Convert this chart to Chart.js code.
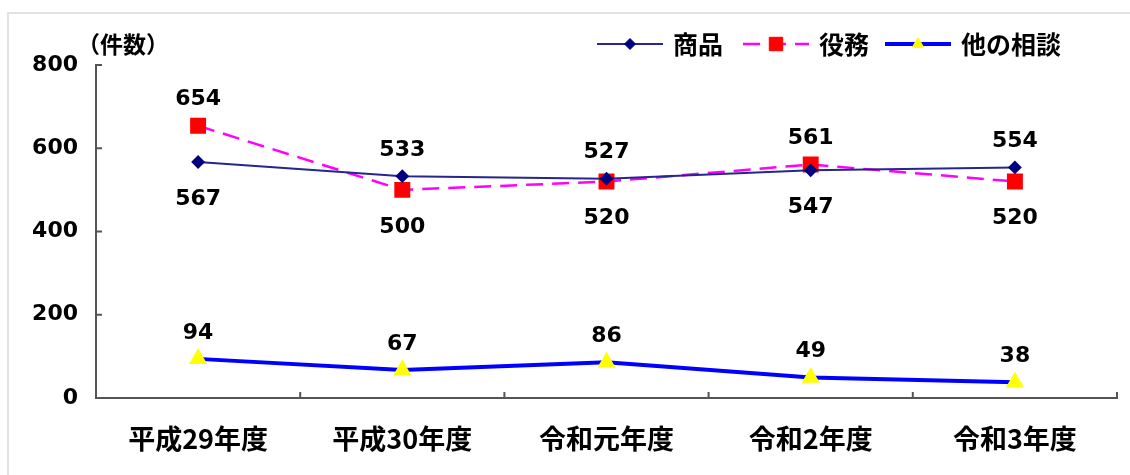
<!DOCTYPE html>
<html>
<head>
<meta charset="utf-8">
<script src="https://cdn.jsdelivr.net/npm/chart.js@4"></script>
<style>
    html, body { margin:0; padding:0; background:#fff; }
    #wrap { width:1130px; height:475px; position:relative; }
</style>
</head>
<body>
<div id="wrap"><canvas id="grafica" width="1130" height="475"></canvas></div>
<script>
var categorias = ['平成29年度', '平成30年度', '令和元年度', '令和2年度', '令和3年度'];
var shohin = [567, 533, 527, 547, 554];      // 商品
var ekimu = [654, 500, 520, 561, 520];        // 役務
var sonota = [94, 67, 86, 49, 38];            // 他の相談
var nombres = ['商品', '役務', '他の相談'];
var posEtiquetas = [
    ['below', 'above', 'above', 'below', 'above'],
    ['above', 'below', 'below', 'above', 'below'],
    ['above', 'above', 'above', 'above', 'above']
];
var ticksY = [0, 200, 400, 600, 800];

var fuenteNum = '"DejaVu Sans", "Noto Sans CJK JP", sans-serif';
var fuenteJp = '"Noto Sans CJK JP", "DejaVu Sans", sans-serif';

// etiquetas de datos, leyenda, marco y marcas de eje
var extras = {
    id: 'extras',
    afterDraw: function (chart) {
        var ctx = chart.ctx;
        var area = chart.chartArea;
        var x = chart.scales.x;
        var y = chart.scales.y;
        ctx.save();

        // marco
        ctx.strokeStyle = '#e2e2e2';
        ctx.lineWidth = 2;
        ctx.beginPath();
        ctx.moveTo(8, 475);
        ctx.lineTo(8, 13);
        ctx.lineTo(1130, 13);
        ctx.stroke();

        // marcas hacia dentro
        ctx.strokeStyle = '#555';
        ctx.lineWidth = 2;
        ctx.beginPath();
        for (var i = 0; i < y.ticks.length; i++) {
            var py = y.getPixelForTick(i);
            ctx.moveTo(area.left, py);
            ctx.lineTo(area.left + 6, py);
        }
        var paso = x.getPixelForValue(1) - x.getPixelForValue(0);
        for (var j = 0; j <= categorias.length; j++) {
            var px = x.getPixelForValue(j) - paso / 2;
            ctx.moveTo(px, area.bottom);
            ctx.lineTo(px, area.bottom - 6);
        }
        ctx.stroke();

        // etiquetas de datos
        ctx.fillStyle = '#000';
        ctx.font = 'bold 22px ' + fuenteNum;
        ctx.textAlign = 'center';
        chart.data.datasets.forEach(function (ds, d) {
            var meta = chart.getDatasetMeta(d);
            meta.data.forEach(function (p, k) {
                if (posEtiquetas[d][k] === 'above') {
                    ctx.textBaseline = 'bottom';
                    ctx.fillText(ds.data[k], p.x, p.y - 15);
                } else {
                    ctx.textBaseline = 'top';
                    ctx.fillText(ds.data[k], p.x, p.y + 26);
                }
            });
        });

        // (件数)
        ctx.font = 'bold 23px ' + fuenteJp;
        ctx.textAlign = 'left';
        ctx.textBaseline = 'middle';
        ctx.fillText('（件数）', 77, 44);

        // leyenda
        var lx = [597, 743, 885];
        chart.data.datasets.forEach(function (ds, d) {
            var x0 = lx[d], ly = 44, largo = 66;
            ctx.strokeStyle = ds.borderColor;
            ctx.lineWidth = ds.borderWidth;
            ctx.setLineDash(ds.borderDash || []);
            ctx.beginPath();
            ctx.moveTo(x0, ly);
            ctx.lineTo(x0 + largo, ly);
            ctx.stroke();
            ctx.setLineDash([]);
            ctx.fillStyle = ds.pointBackgroundColor;
            ctx.strokeStyle = ds.pointBorderColor;
            ctx.lineWidth = 1;
            Chart.helpers.drawPoint(ctx, {
                pointStyle: ds.pointStyle,
                radius: ds.pointRadius,
                borderWidth: 1,
                rotation: 0
            }, x0 + largo / 2, ly);
            ctx.fillStyle = '#000';
            ctx.font = 'bold 25px ' + fuenteJp;
            ctx.textBaseline = 'middle';
            ctx.fillText(ds.label, x0 + largo + 10, ly);
        });
        ctx.restore();
    }
};

var canvas = document.getElementById('grafica').getContext('2d');
window.linea = new Chart(canvas, {
    type: 'line',
    data: {
        labels: categorias,
        datasets: [{
            label: nombres[0],
            data: shohin,
            borderColor: '#26268c',
            borderWidth: 2,
            pointStyle: 'rectRot',
            pointRadius: 5.5,
            pointBackgroundColor: '#000080',
            pointBorderColor: '#000080'
        }, {
            label: nombres[1],
            data: ekimu,
            borderColor: '#ff00ff',
            borderWidth: 2.5,
            borderDash: [17, 9],
            pointStyle: 'rect',
            pointRadius: 9.5,
            pointBackgroundColor: '#ff0000',
            pointBorderColor: '#ff0000'
        }, {
            label: nombres[2],
            data: sonota,
            borderColor: '#0000ff',
            borderWidth: 4,
            pointStyle: 'triangle',
            pointRadius: 6.5,
            pointBackgroundColor: '#ffff00',
            pointBorderColor: '#ffff00'
        }]
    },
    options: {
        responsive: false,
        animation: false,
        layout: { padding: { left: 0, top: 65, right: 13, bottom: 0 } },
        plugins: { legend: { display: false }, tooltip: { enabled: false } },
        scales: {
            x: {
                offset: true,
                grid: { display: false },
                border: { display: true, color: '#555', width: 2 },
                ticks: { color: '#000', padding: 17, font: { size: 27, weight: 'bold', family: fuenteJp } },
                afterFit: function (s) { s.height = 77; }
            },
            y: {
                min: 0,
                max: 800,
                afterBuildTicks: function (s) {
                    s.ticks = ticksY.map(function (v) { return { value: v }; });
                },
                grid: { display: false, drawTicks: false },
                border: { display: true, color: '#555', width: 2 },
                ticks: { color: '#000', padding: 18, font: { size: 22, weight: 'bold', family: fuenteNum } },
                afterFit: function (s) { s.width = 96; }
            }
        }
    },
    plugins: [extras]
});
</script>
</body>
</html>
